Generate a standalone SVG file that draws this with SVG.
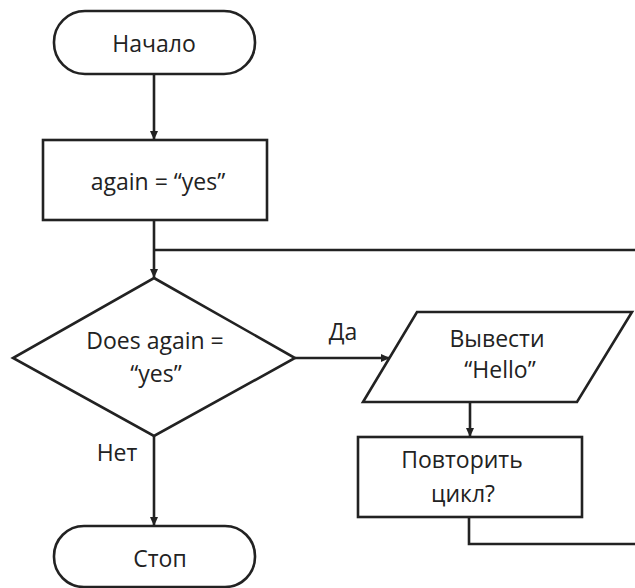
<svg xmlns="http://www.w3.org/2000/svg" width="635" height="588" viewBox="0 0 635 588">
<style>
.s{fill:#fff;stroke:#222;stroke-width:2.6}
.c{fill:none;stroke:#222;stroke-width:2.6}
text{font-family:"Open Sans","Liberation Sans",sans-serif;font-size:23px;fill:#222;text-anchor:middle}
</style>
<defs>
<marker id="a" markerWidth="10" markerHeight="10" refX="9" refY="5" orient="auto" markerUnits="userSpaceOnUse">
<path d="M0,1 L9,5 L0,9 Z" fill="#222"/>
</marker>
</defs>
<rect width="635" height="588" fill="#fff"/>
<g id="connectors">
<path class="c" d="M154,74 V140" marker-end="url(#a)"/>
<path class="c" d="M154,220 V278" marker-end="url(#a)"/>
<path class="c" d="M154,250 H635"/>
<path class="c" d="M295,358 H390" marker-end="url(#a)"/>
<path class="c" d="M470,402 V437" marker-end="url(#a)"/>
<path class="c" d="M154,436 V526" marker-end="url(#a)"/>
<path class="c" d="M469,517 V544 H635"/>
<text x="343" y="340">Да</text>
<text x="117" y="461">Нет</text>
</g>
<g id="start">
<rect class="s" x="54" y="11" width="201" height="63" rx="31"/>
<text x="154" y="52">Начало</text>
</g>
<g id="assign">
<rect class="s" x="43" y="140" width="224" height="80"/>
<text x="158" y="190">again = “yes”</text>
</g>
<g id="decision">
<polygon class="s" points="154,278 295,358 154,436 13,358"/>
<text x="155" y="349">Does again =</text>
<text x="156" y="382">“yes”</text>
</g>
<g id="output">
<polygon class="s" points="417,312 632,312 577,402 363,402"/>
<text x="497" y="347">Вывести</text>
<text x="500" y="378">“Hello”</text>
</g>
<g id="repeat">
<rect class="s" x="358" y="437" width="224" height="80"/>
<text x="462" y="468">Повторить</text>
<text x="463" y="502">цикл?</text>
</g>
<g id="stop">
<rect class="s" x="54" y="526" width="201" height="61" rx="30"/>
<text x="160" y="567">Стоп</text>
</g>
</svg>
